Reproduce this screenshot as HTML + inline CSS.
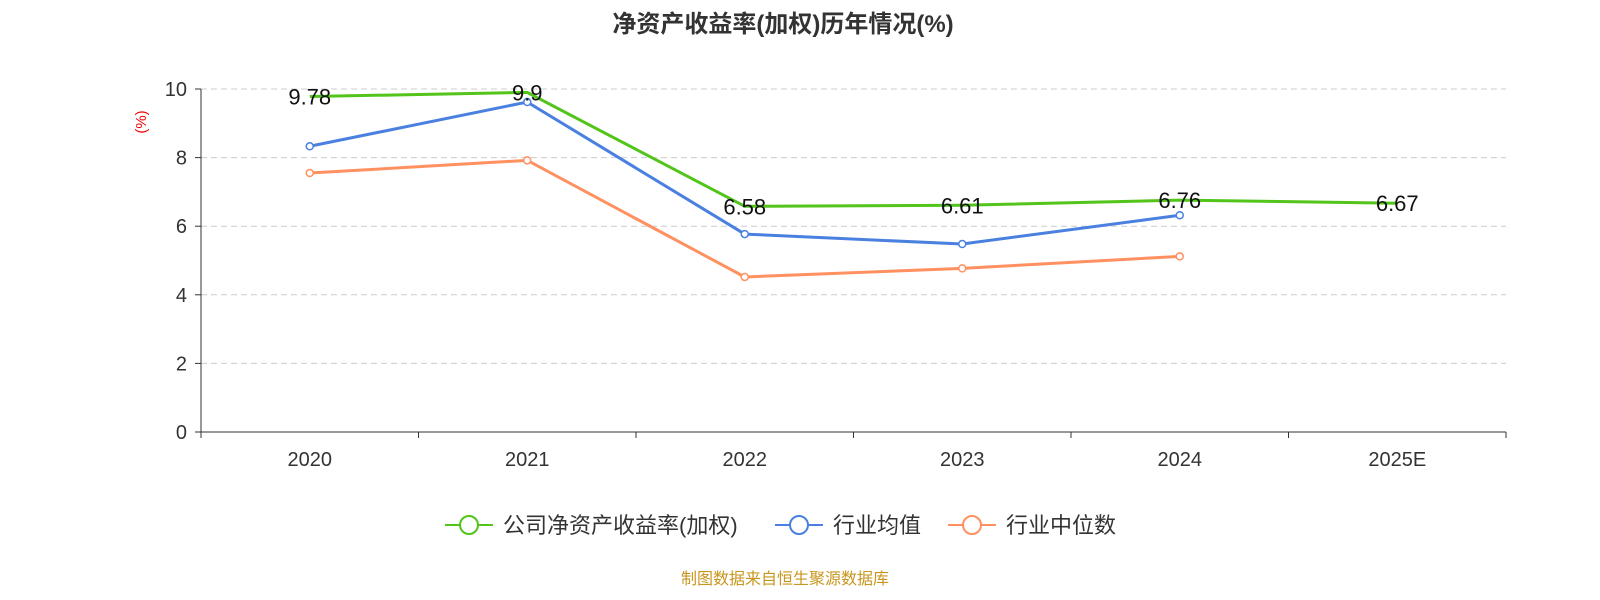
<!DOCTYPE html>
<html><head><meta charset="utf-8"><style>
body{margin:0;background:#fff;}
svg{display:block;font-family:"Liberation Sans","Noto Sans CJK SC",sans-serif;}
</style></head><body>
<svg id="chart" width="1600" height="600">
<text x="783" y="32" text-anchor="middle" font-size="24" font-weight="bold" fill="#333">净资产收益率(加权)历年情况(%)</text>
<text x="146" y="122" font-size="15" fill="#e00" transform="rotate(-90 146 122)" text-anchor="middle">(%)</text>
<g id="grid"></g><g id="axes"></g><g id="series"></g>
<g>
<g><line x1="445" y1="525" x2="493" y2="525" stroke="#52c41a" stroke-width="2"/><circle cx="469" cy="525" r="9" fill="#fff" stroke="#52c41a" stroke-width="2"/><text x="503" y="533" font-size="22" fill="#333">公司净资产收益率(加权)</text></g>
<g><line x1="775" y1="525" x2="823" y2="525" stroke="#4a80e0" stroke-width="2"/><circle cx="799" cy="525" r="9" fill="#fff" stroke="#4a80e0" stroke-width="2"/><text x="833" y="533" font-size="22" fill="#333">行业均值</text></g>
<g><line x1="948" y1="525" x2="996" y2="525" stroke="#ff9060" stroke-width="2"/><circle cx="972" cy="525" r="9" fill="#fff" stroke="#ff9060" stroke-width="2"/><text x="1006" y="533" font-size="22" fill="#333">行业中位数</text></g>
</g>
<text x="785" y="584" text-anchor="middle" font-size="16" fill="#c8961e">制图数据来自恒生聚源数据库</text>
</svg>
<script>
const categories=["2020","2021","2022","2023","2024","2025E"];
const companyValues=[9.78,9.9,6.58,6.61,6.76,6.67];
const avgValues=[8.33,9.62,5.77,5.48,6.32];
const medianValues=[7.55,7.92,4.52,4.77,5.12];
const yTicks=[0,2,4,6,8,10];
const NS="http://www.w3.org/2000/svg";
const x0=201,x1=1506,y0=432,y1=89;
const band=(x1-x0)/categories.length;
const xs=i=>x0+band*(i+0.5);
const ys=v=>y0-(v/10)*(y0-y1);
function mk(tag,attrs,parent){const e=document.createElementNS(NS,tag);for(const k in attrs)e.setAttribute(k,attrs[k]);parent.appendChild(e);return e;}
const grid=document.getElementById('grid'),axes=document.getElementById('axes'),ser=document.getElementById('series');
yTicks.forEach(t=>{const y=ys(t);
 if(t>0){const l=mk('line',{x1:x0,x2:x1,y1:y,y2:y,stroke:'#ccc','stroke-dasharray':'6,4'},grid);
 }
 mk('line',{x1:x0-6,x2:x0,y1:y,y2:y,stroke:'#333'},axes);
 const tx=mk('text',{x:x0-14,y:y+7,'text-anchor':'end','font-size':20,fill:'#333'},axes);tx.textContent=t;
 
});
mk('line',{x1:x0,x2:x0,y1:y1,y2:y0,stroke:'#333'},axes);
mk('line',{x1:x0,x2:x1,y1:y0,y2:y0,stroke:'#333'},axes);
for(let i=0;i<=categories.length;i++){const x=x0+band*i;mk('line',{x1:x,x2:x,y1:y0,y2:y0+6,stroke:'#333'},axes);}
categories.forEach((c,i)=>{const t=mk('text',{x:xs(i),y:y0+34,'text-anchor':'middle','font-size':20,fill:'#333'},axes);t.textContent=c;
 });
function line(vals,color,name,markers,labels){
 const p=mk('polyline',{points:vals.map((v,i)=>xs(i)+','+ys(v)).join(' '),fill:'none',stroke:color,'stroke-width':3},ser);
 
 vals.forEach((v,i)=>{
  if(markers){const c=mk('circle',{cx:xs(i),cy:ys(v),r:3.5,fill:'#fff',stroke:color,'stroke-width':1.5},ser);
   }
  if(labels){const t=mk('text',{x:xs(i),y:ys(v)+8,'text-anchor':'middle','font-size':22,fill:'#111'},ser);t.textContent=v;
   }
 });
}
line(medianValues,'#ff9060','industry-median',true,false);
line(avgValues,'#4a80e0','industry-avg',true,false);
line(companyValues,'#52c41a','company',false,true);
</script>
</body></html>
